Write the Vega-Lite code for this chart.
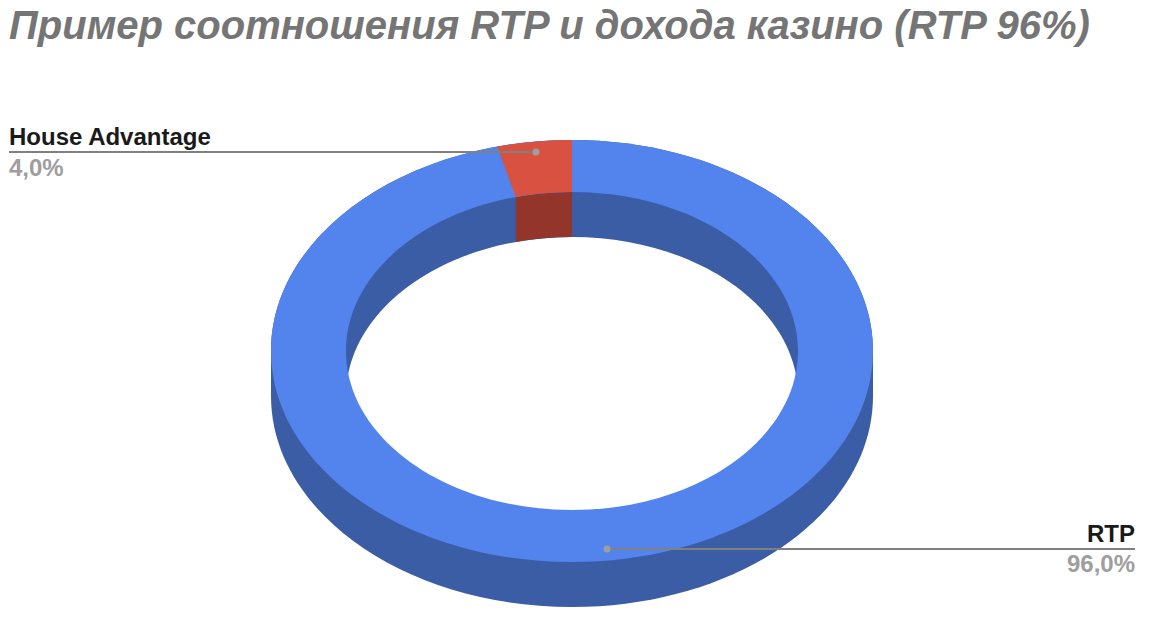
{
  "$schema": "https://vega.github.io/schema/vega-lite/v6.json",
  "width": 1166,
  "height": 632,
  "padding": 0,
  "autosize": {"type": "none"},
  "background": "white",
  "config": {"view": {"stroke": null}},
  "title": {
    "text": "Пример соотношения RTP и дохода казино (RTP 96%)",
    "font": "Liberation Sans",
    "fontSize": 40,
    "fontWeight": "bold",
    "fontStyle": "italic",
    "color": "#757575",
    "anchor": "start",
    "frame": "group",
    "baseline": "alphabetic",
    "offset": 0,
    "dx": 9,
    "dy": 79
  },
  "data": {
    "values": [
      {"slice": "RTP", "share": 96, "share_label": "96,0%"},
      {"slice": "House Advantage", "share": 4, "share_label": "4,0%"}
    ]
  },
  "encoding": {
    "x": {"datum": 0, "type": "quantitative", "scale": {"domain": [-572, 594], "nice": false, "zero": false}, "axis": null},
    "y": {"datum": 0, "type": "quantitative", "scale": {"domain": [-351, 281], "nice": false, "zero": false, "reverse": true}, "axis": null}
  },
  "layer": [
    {
      "transform": [{"filter": "datum.slice == 'RTP'"}],
      "mark": {
        "type": "point", "filled": true, "opacity": 1, "size": 4, "fill": "#3A5DA6",
        "shape": "M-301 0 C-301 -116.5 -166.2 -211 0 -211 C166.2 -211 301 -116.5 301 0 L301 45 C301 161.5 166.2 256 0 256 C-166.2 256 -301 161.5 -301 45 Z"
      }
    },
    {
      "transform": [{"filter": "datum.slice == 'RTP'"}],
      "mark": {
        "type": "point", "filled": true, "opacity": 1, "size": 4, "fill": "white",
        "shape": "M-226 45 C-226 -42.8 -124.8 -114 0 -114 C124.8 -114 226 -42.8 226 45 C226 132.8 124.8 204 0 204 C-124.8 204 -226 132.8 -226 45 Z"
      }
    },
    {
      "transform": [{"filter": "datum.slice == 'House Advantage'"}],
      "mark": {
        "type": "point", "filled": true, "opacity": 1, "size": 4, "fill": "#93352A",
        "shape": "M0 -159 C-19 -159 -37.8 -157.3 -56.2 -154 L-56.2 -109 C-37.8 -112.3 -19 -114 0 -114 Z"
      }
    },
    {
      "transform": [{"filter": "datum.slice == 'RTP'"}],
      "mark": {
        "type": "point", "filled": true, "opacity": 1, "size": 4, "fill": "#5383EC",
        "shape": "M-301 0 C-301 -116.5 -166.2 -211 0 -211 C166.2 -211 301 -116.5 301 0 C301 116.5 166.2 211 0 211 C-166.2 211 -301 116.5 -301 0 Z M-226 0 C-226 87.8 -124.8 159 0 159 C124.8 159 226 87.8 226 0 C226 -87.8 124.8 -159 0 -159 C-124.8 -159 -226 -87.8 -226 0 Z"
      }
    },
    {
      "transform": [{"filter": "datum.slice == 'House Advantage'"}],
      "mark": {
        "type": "point", "filled": true, "opacity": 1, "size": 4, "fill": "#D95140",
        "shape": "M0 -211 C-25.3 -211 -50.4 -208.8 -74.9 -204.4 L-56.2 -154 C-37.8 -157.3 -19 -159 0 -159 Z"
      }
    },
    {
      "transform": [{"filter": "datum.slice == 'House Advantage'"}],
      "mark": {"type": "rule", "color": "#808080", "strokeWidth": 1.8},
      "encoding": {"x": {"datum": -563}, "x2": {"datum": -36}, "y": {"datum": -199}}
    },
    {
      "transform": [{"filter": "datum.slice == 'House Advantage'"}],
      "mark": {"type": "circle", "color": "#9E9E9E", "opacity": 1, "size": 50},
      "encoding": {"x": {"datum": -36}, "y": {"datum": -199}}
    },
    {
      "transform": [{"filter": "datum.slice == 'RTP'"}],
      "mark": {"type": "rule", "color": "#808080", "strokeWidth": 1.8},
      "encoding": {"x": {"datum": 35}, "x2": {"datum": 563}, "y": {"datum": 198}}
    },
    {
      "transform": [{"filter": "datum.slice == 'RTP'"}],
      "mark": {"type": "circle", "color": "#9E9E9E", "opacity": 1, "size": 50},
      "encoding": {"x": {"datum": 35}, "y": {"datum": 198}}
    },
    {
      "transform": [{"filter": "datum.slice == 'House Advantage'"}],
      "mark": {"type": "text", "font": "Liberation Sans", "fontSize": 24, "fontWeight": "bold", "color": "#1A1A1A", "align": "left", "baseline": "alphabetic"},
      "encoding": {"x": {"datum": -563}, "y": {"datum": -206.5}, "text": {"field": "slice"}}
    },
    {
      "transform": [{"filter": "datum.slice == 'House Advantage'"}],
      "mark": {"type": "text", "font": "Liberation Sans", "fontSize": 24, "fontWeight": "bold", "color": "#9E9E9E", "align": "left", "baseline": "alphabetic"},
      "encoding": {"x": {"datum": -563}, "y": {"datum": -175}, "text": {"field": "share_label"}}
    },
    {
      "transform": [{"filter": "datum.slice == 'RTP'"}],
      "mark": {"type": "text", "font": "Liberation Sans", "fontSize": 24, "fontWeight": "bold", "color": "#1A1A1A", "align": "right", "baseline": "alphabetic"},
      "encoding": {"x": {"datum": 563}, "y": {"datum": 190.5}, "text": {"field": "slice"}}
    },
    {
      "transform": [{"filter": "datum.slice == 'RTP'"}],
      "mark": {"type": "text", "font": "Liberation Sans", "fontSize": 24, "fontWeight": "bold", "color": "#9E9E9E", "align": "right", "baseline": "alphabetic"},
      "encoding": {"x": {"datum": 563}, "y": {"datum": 221}, "text": {"field": "share_label"}}
    }
  ]
}
